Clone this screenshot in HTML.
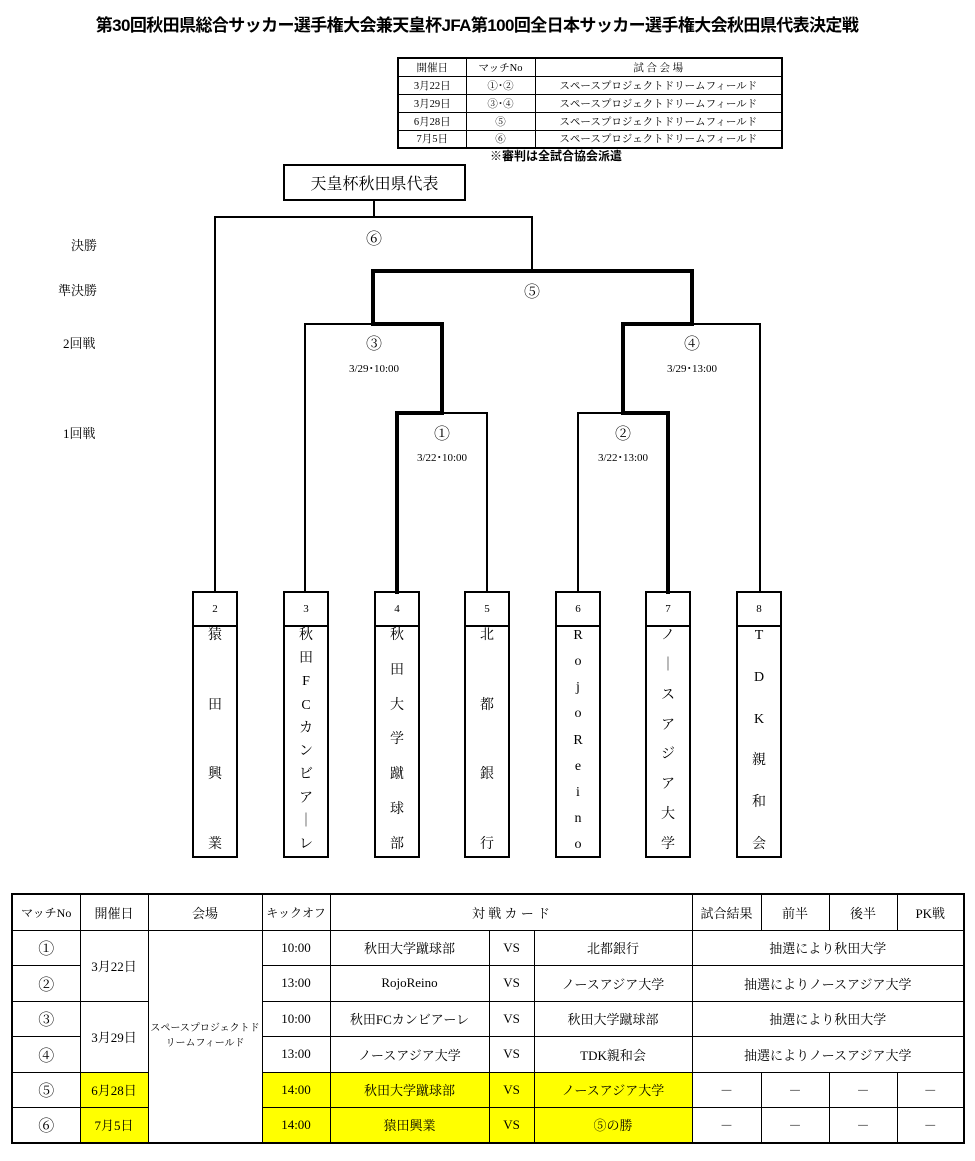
<!DOCTYPE html>
<html><head><meta charset="utf-8">
<style>
*{margin:0;padding:0;box-sizing:border-box}
body{width:975px;height:1161px;background:#fff;position:relative;overflow:hidden;font-family:"Liberation Serif","Noto Serif CJK SC",serif;color:#000}
.a{position:absolute}
.c{position:absolute;display:flex;align-items:center;justify-content:center;text-align:center}
table{border-collapse:collapse;position:absolute}
td{border:1.5px solid #000;text-align:center;vertical-align:middle;padding:0}
.y{background:#ffff00}
.team{position:absolute;border:2px solid #000;width:46px;top:591px;height:267px}
.team .h{height:34px;border-bottom:2px solid #000;display:flex;align-items:center;justify-content:center;font-size:11px}
.team .b{height:229px;display:flex;flex-direction:column;justify-content:space-between;align-items:center;font-size:14px;line-height:20px;margin-top:-1px}
</style></head><body>
<div class="a" style="left:92px;top:11px;width:770px;font-family:'Liberation Sans','Noto Sans CJK JP',sans-serif;font-weight:bold;font-size:17px;white-space:nowrap;text-align:center;letter-spacing:-0.6px">第30回秋田県総合サッカー選手権大会兼天皇杯JFA第100回全日本サッカー選手権大会秋田県代表決定戦</div>

<table style="left:397px;top:57px;width:386px;font-size:10.5px;border:2px solid #000">
<tr style="height:18px"><td style="width:68px">開催日</td><td style="width:69px">マッチNo</td><td>試 合 会 場</td></tr>
<tr style="height:18px"><td>3月22日</td><td>①･②</td><td>スペースプロジェクトドリームフィールド</td></tr>
<tr style="height:18px"><td>3月29日</td><td>③･④</td><td>スペースプロジェクトドリームフィールド</td></tr>
<tr style="height:18px"><td>6月28日</td><td>⑤</td><td>スペースプロジェクトドリームフィールド</td></tr>
<tr style="height:18px"><td>7月5日</td><td>⑥</td><td>スペースプロジェクトドリームフィールド</td></tr>
</table>
<div class="a" style="left:490px;top:147px;font-size:12px;font-weight:bold;font-family:'Liberation Sans','Noto Sans CJK JP',sans-serif">※審判は全試合協会派遣</div>

<div class="c" style="left:283px;top:164px;width:183px;height:37px;border:2px solid #000;font-size:16px">天皇杯秋田県代表</div>

<svg class="a" style="left:0;top:0" width="975" height="900">
<g stroke="#000" fill="none" stroke-linecap="square">
<g stroke-width="2">
<path d="M374 201V217M215 217H532M215 217V592M532 217V271"/>
<path d="M305 324H373M305 324V592M442 413H487M487 413V592"/>
<path d="M692 324H760M760 324V592M578 413H623M578 413V592"/>
</g>
<g stroke-width="4">
<path d="M373 271H692M373 271V324M692 271V324"/>
<path d="M373 324H442V413M397 413H442M397 413V592"/>
<path d="M692 324H623V413H668V592"/>
</g>
</g>
</svg>

<div class="a" style="left:71px;top:235px;font-size:13px">決勝</div>
<div class="a" style="left:58px;top:280px;font-size:13px">準決勝</div>
<div class="a" style="left:63px;top:333px;font-size:13px">2回戦</div>
<div class="a" style="left:63px;top:423px;font-size:13px">1回戦</div>

<div class="c" style="left:354px;top:226px;width:40px;font-size:16px">⑥</div>
<div class="c" style="left:512px;top:279px;width:40px;font-size:16px">⑤</div>
<div class="c" style="left:354px;top:331px;width:40px;font-size:16px">③</div>
<div class="c" style="left:324px;top:360px;width:100px;font-size:11px">3/29･10:00</div>
<div class="c" style="left:672px;top:331px;width:40px;font-size:16px">④</div>
<div class="c" style="left:642px;top:360px;width:100px;font-size:11px">3/29･13:00</div>
<div class="c" style="left:422px;top:421px;width:40px;font-size:16px">①</div>
<div class="c" style="left:392px;top:449px;width:100px;font-size:11px">3/22･10:00</div>
<div class="c" style="left:603px;top:421px;width:40px;font-size:16px">②</div>
<div class="c" style="left:573px;top:449px;width:100px;font-size:11px">3/22･13:00</div>

<div class="team" style="left:192px"><div class="h">2</div><div class="b"><span>猿</span><span>田</span><span>興</span><span>業</span></div></div>
<div class="team" style="left:283px"><div class="h">3</div><div class="b"><span>秋</span><span>田</span><span>F</span><span>C</span><span>カ</span><span>ン</span><span>ビ</span><span>ア</span><span>｜</span><span>レ</span></div></div>
<div class="team" style="left:374px"><div class="h">4</div><div class="b"><span>秋</span><span>田</span><span>大</span><span>学</span><span>蹴</span><span>球</span><span>部</span></div></div>
<div class="team" style="left:464px"><div class="h">5</div><div class="b"><span>北</span><span>都</span><span>銀</span><span>行</span></div></div>
<div class="team" style="left:555px"><div class="h">6</div><div class="b"><span>R</span><span>o</span><span>j</span><span>o</span><span>R</span><span>e</span><span>i</span><span>n</span><span>o</span></div></div>
<div class="team" style="left:645px"><div class="h">7</div><div class="b"><span>ノ</span><span>｜</span><span>ス</span><span>ア</span><span>ジ</span><span>ア</span><span>大</span><span>学</span></div></div>
<div class="team" style="left:736px"><div class="h">8</div><div class="b"><span>T</span><span>D</span><span>K</span><span>親</span><span>和</span><span>会</span></div></div>

<table style="left:11px;top:893px;width:954px;font-size:13px;border:2.5px solid #000">
<colgroup><col style="width:68px"><col style="width:68px"><col style="width:114px"><col style="width:68px"><col style="width:159px"><col style="width:45px"><col style="width:158px"><col style="width:69px"><col style="width:68px"><col style="width:68px"><col></colgroup>
<tr style="height:36px"><td style="font-size:12px">マッチNo</td><td>開催日</td><td>会場</td><td style="font-size:12px">キックオフ</td><td colspan="3">対 戦 カ ー ド</td><td>試合結果</td><td>前半</td><td>後半</td><td>PK戦</td></tr>
<tr style="height:35px"><td style="font-size:16px">①</td><td rowspan="2">3月22日</td><td rowspan="6" style="font-size:10px;line-height:15px">スペースプロジェクトド<br>リームフィールド</td><td>10:00</td><td>秋田大学蹴球部</td><td>VS</td><td>北都銀行</td><td colspan="4">抽選により秋田大学</td></tr>
<tr style="height:36px"><td style="font-size:16px">②</td><td>13:00</td><td>RojoReino</td><td>VS</td><td>ノースアジア大学</td><td colspan="4">抽選によりノースアジア大学</td></tr>
<tr style="height:35px"><td style="font-size:16px">③</td><td rowspan="2">3月29日</td><td>10:00</td><td>秋田FCカンビアーレ</td><td>VS</td><td>秋田大学蹴球部</td><td colspan="4">抽選により秋田大学</td></tr>
<tr style="height:36px"><td style="font-size:16px">④</td><td>13:00</td><td>ノースアジア大学</td><td>VS</td><td>TDK親和会</td><td colspan="4">抽選によりノースアジア大学</td></tr>
<tr style="height:35px"><td style="font-size:16px">⑤</td><td class="y">6月28日</td><td class="y">14:00</td><td class="y">秋田大学蹴球部</td><td class="y">VS</td><td class="y">ノースアジア大学</td><td>－</td><td>－</td><td>－</td><td>－</td></tr>
<tr style="height:36px"><td style="font-size:16px">⑥</td><td class="y">7月5日</td><td class="y">14:00</td><td class="y">猿田興業</td><td class="y">VS</td><td class="y">⑤の勝</td><td>－</td><td>－</td><td>－</td><td>－</td></tr>
</table>
</body></html>
